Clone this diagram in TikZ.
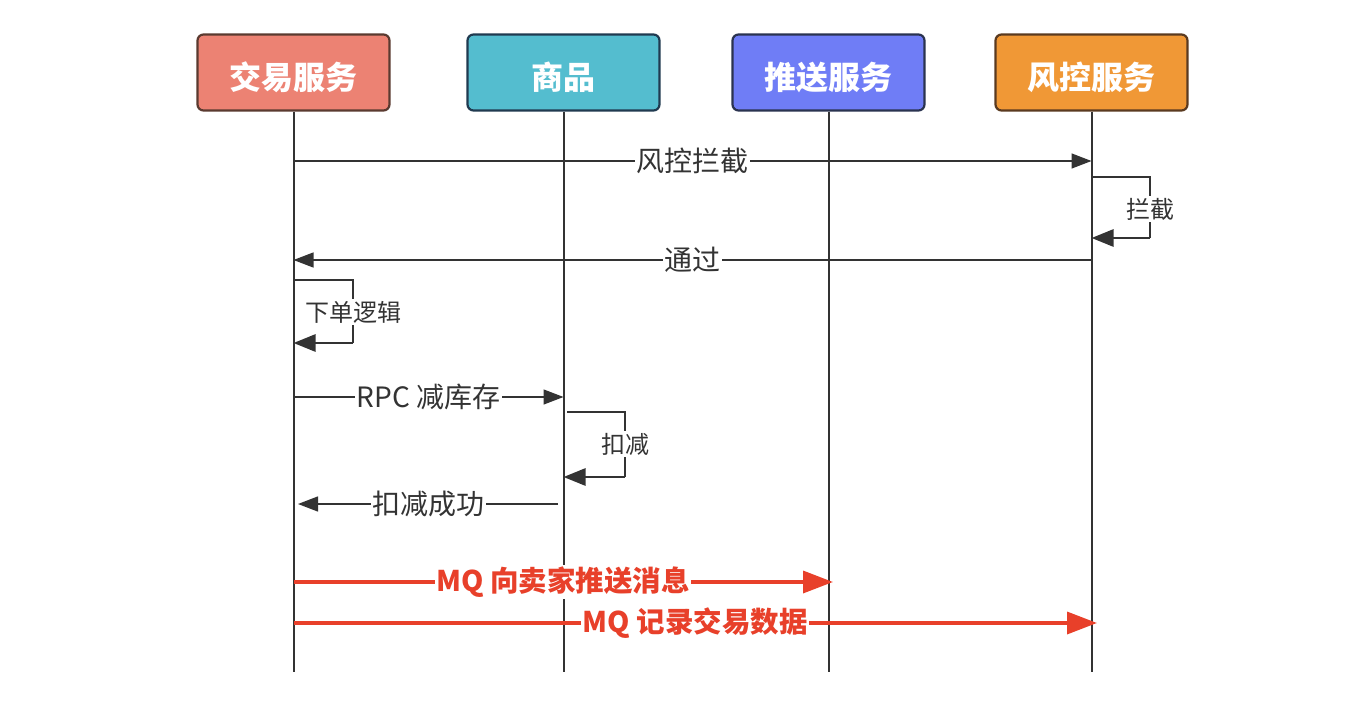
\documentclass[tikz,border=0pt]{standalone}
\usepackage{fontspec}
\setmainfont{Noto Sans CJK SC}
\usetikzlibrary{arrows.meta}
\definecolor{fjy}{HTML}{EC8273}
\definecolor{bjy}{HTML}{5A3A30}
\definecolor{fsp}{HTML}{54BDCF}
\definecolor{bsp}{HTML}{203A50}
\definecolor{fts}{HTML}{6F7DF6}
\definecolor{bts}{HTML}{2A3350}
\definecolor{ffk}{HTML}{F09836}
\definecolor{bfk}{HTML}{5A3A20}
\definecolor{ink}{HTML}{333333}
\definecolor{mqred}{HTML}{E8402A}
\begin{document}
\begin{tikzpicture}[x=1pt,y=-1pt,
  header/.style={rounded corners=6pt, line width=2.2pt, minimum width=192pt, minimum height=76pt,
    text=white, inner sep=0pt, text height=36pt, text depth=2pt,
    font=\bfseries\fontsize{32}{32}\selectfont},
  life/.style={draw=ink, line width=2pt},
  msg/.style={draw=ink, line width=1.4pt, -{Triangle[length=20pt,width=15pt]}},
  selfloop/.style={draw=ink, line width=2.8pt},
  selftip/.style={draw=ink, line width=2.8pt, -{Triangle[length=22pt,width=17pt]}},
  lbl/.style={fill=white, text=ink, inner sep=1.5pt, font=\fontsize{28}{28}\selectfont},
  slbl/.style={fill=white, text=ink, inner sep=1.5pt, font=\fontsize{24}{24}\selectfont},
  mq/.style={draw=mqred, line width=3.5pt, -{Triangle[length=30pt,width=22pt]}},
  mqlbl/.style={fill=white, text=mqred, inner sep=1.5pt, font=\bfseries\fontsize{28.5}{28.5}\selectfont}
]
\useasboundingbox (0,0) rectangle (1358,722);
% headers
\node[header, fill=fjy, draw=bjy] (jy) at (293.5,72.5) {交易服务};
\node[header, fill=fsp, draw=bsp] (sp) at (563.5,72.5) {商品};
\node[header, fill=fts, draw=bts] (ts) at (828.5,72.5) {推送服务};
\node[header, fill=ffk, draw=bfk] (fk) at (1091.5,72.5) {风控服务};
% lifelines
\coordinate (jyend) at (293.5,672);
\coordinate (spend) at (563.5,672);
\coordinate (tsend) at (828.5,672);
\coordinate (fkend) at (1091.5,672);
\draw[life] (jy.south) -- (jyend);
\draw[life] (sp.south) -- (spend);
\draw[life] (ts.south) -- (tsend);
\draw[life] (fk.south) -- (fkend);
% message 1
\coordinate (m1a) at (293.5,161);
\coordinate (m1b) at (1091.5,161);
\draw[msg] (m1a) -- node[lbl]{风控拦截} (m1b);
% self loop on fk
\coordinate (l1a) at (1091.5,177);
\coordinate (l1b) at (1150,177);
\coordinate (l1c) at (1150,238);
\coordinate (l1d) at (1091.5,238);
\draw[selfloop] (l1a) -- (l1b) -- (l1c);
\draw[selftip] (l1c) -- (l1d);
\node[slbl] (l1t) at (1150,209) {拦截};
% message 2
\coordinate (m2a) at (1091.5,260);
\coordinate (m2b) at (293.5,260);
\draw[msg] (m2a) -- node[lbl]{通过} (m2b);
% self loop on jy
\coordinate (l2a) at (293.5,280);
\coordinate (l2b) at (353,280);
\coordinate (l2c) at (353,343);
\coordinate (l2d) at (293.5,343);
\draw[selfloop] (l2a) -- (l2b) -- (l2c);
\draw[selftip] (l2c) -- (l2d);
\node[slbl] (l2t) at (353,312) {下单逻辑};
% message 3
\coordinate (m3a) at (293.5,397);
\coordinate (m3b) at (563.5,397);
\draw[msg] (m3a) -- node[lbl]{RPC 减库存} (m3b);
% self loop on sp
\coordinate (l3a) at (567,412);
\coordinate (l3b) at (625,412);
\coordinate (l3c) at (625,477);
\coordinate (l3d) at (563.5,477);
\draw[selfloop] (l3a) -- (l3b) -- (l3c);
\draw[selftip] (l3c) -- (l3d);
\node[slbl] (l3t) at (625,444) {扣减};
% message 4
\coordinate (m4a) at (558,504);
\coordinate (m4b) at (298,504);
\draw[msg] (m4a) -- node[lbl]{扣减成功} (m4b);
% MQ messages
\coordinate (m5a) at (293.5,582);
\coordinate (m5b) at (833,582);
\draw[mq] (m5a) -- node[mqlbl]{MQ 向卖家推送消息} (m5b);
\coordinate (m6a) at (293.5,623);
\coordinate (m6b) at (1097,623);
\draw[mq] (m6a) -- node[mqlbl]{MQ 记录交易数据} (m6b);
\end{tikzpicture}
\end{document}
